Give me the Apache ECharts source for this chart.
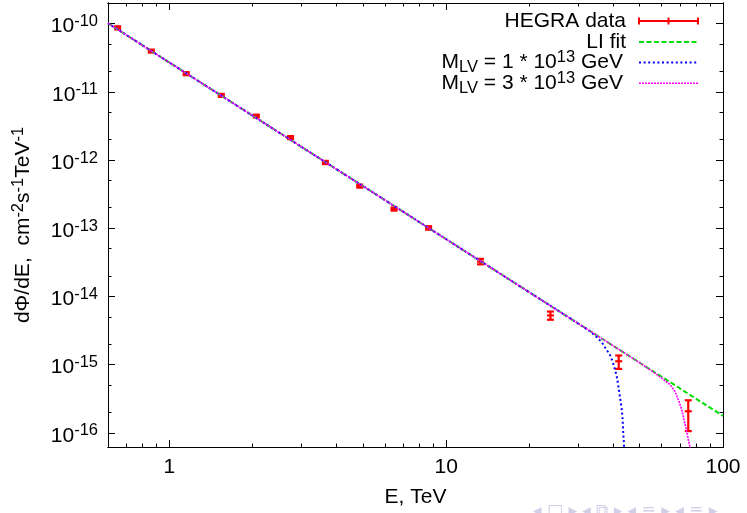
<!DOCTYPE html>
<html><head><meta charset="utf-8">
<script src="https://cdn.jsdelivr.net/npm/echarts@6/dist/echarts.min.js"></script>
<style>html,body{margin:0;padding:0;background:#fff}#c{width:747px;height:513px}</style>
</head><body><div id="c"></div>
<script>
// ---- data ----
const hegraE    = [0.65, 0.86, 1.15, 1.54, 2.06, 2.74, 3.66, 4.87, 6.48, 8.64, 13.3, 23.8, 42.0, 74.9];
const hegraF    = [8.65e-11, 3.94e-11, 1.84e-11, 8.85e-12, 4.41e-12, 2.13e-12, 9.19e-13, 4.14e-13, 1.91e-13, 1.01e-13, 3.24e-14, 5.26e-15, 1.12e-15, 2.07e-16];
const hegraLow  = [8.2e-11, 3.75e-11, 1.75e-11, 8.4e-12, 4.2e-12, 2.02e-12, 8.7e-13, 3.93e-13, 1.81e-13, 9.5e-14, 2.95e-14, 4.55e-15, 8.65e-16, 1.06e-16];
const hegraHigh = [9.1e-11, 4.15e-11, 1.94e-11, 9.3e-12, 4.62e-12, 2.24e-12, 9.7e-13, 4.35e-13, 2.01e-13, 1.07e-13, 3.55e-14, 6.0e-15, 1.36e-15, 3.0e-16];

const fitE = [0.6, 1, 2, 5, 10, 20, 50, 100];
const fitF = [1.01e-10, 2.68e-11, 4.45e-12, 4.15e-13, 6.89e-14, 1.145e-14, 1.066e-15, 1.77e-16];

const lv1E = [0.6, 1, 2, 5, 10, 20, 30, 33, 34.9, 36.4, 37.4, 39.0, 39.9, 40.7, 41.3, 41.8, 42.4, 43.0, 43.4, 43.6, 43.85, 44.0];
const lv1F = [1.01e-10, 2.68e-11, 4.45e-12, 4.15e-13, 6.89e-14, 1.145e-14, 4.0e-15, 3.1e-15, 2.55e-15, 2.15e-15, 1.81e-15, 1.40e-15, 1.12e-15, 8.45e-16, 6.75e-16, 5.10e-16, 3.44e-16, 2.33e-16, 1.57e-16, 1.00e-16, 7.16e-17, 5.0e-17];

const lv3E = [0.6, 1, 2, 5, 10, 20, 50, 56.0, 60.8, 64.3, 67.0, 68.9, 70.9, 72.3, 73.9, 74.9, 75.9, 76.5];
const lv3F = [1.01e-10, 2.68e-11, 4.45e-12, 4.15e-13, 6.89e-14, 1.145e-14, 1.066e-15, 7.8e-16, 6.1e-16, 5.1e-16, 4.07e-16, 3.08e-16, 2.20e-16, 1.57e-16, 1.06e-16, 8.0e-17, 6.27e-17, 5.0e-17];

const xMajorTicks = [1, 10, 100];
const xMinorTicks = [0.7, 0.8, 0.9, 2, 3, 4, 5, 6, 7, 8, 9, 20, 30, 40, 50, 60, 70, 80, 90];
const yMajorTicks = [1e-16, 1e-15, 1e-14, 1e-13, 1e-12, 1e-11, 1e-10];
const yMinorTicks = [2e-16, 5e-16, 2e-15, 5e-15, 2e-14, 5e-14, 2e-13, 5e-13, 2e-12, 5e-12, 2e-11, 5e-11];

const legendLabels = ['HEGRA data', 'LI fit', 'M{sub|LV} = 1 * 10{sup|13} GeV', 'M{sub|LV} = 3 * 10{sup|13} GeV'];

// ---- chart ----
const FONT = '"Liberation Sans", Arial, Helvetica, sans-serif';
const FS = 21, FS_SUP = 16.5;
const X_MIN = 0.6, X_MAX = 100, Y_MIN = 6.2e-17, Y_MAX = 2e-10;
const RED = '#ff0000', GREEN = '#00dd00', BLUE = '#0000ff', MAG = '#ff00ff';
const lg = v => Math.log10(v);

const chart = echarts.init(document.getElementById('c'), null, {renderer: 'canvas'});

// data axes (log scale)
const xData = {type: 'log', logBase: 10, min: X_MIN, max: X_MAX, position: 'bottom',
  axisLine: {show: false, onZero: false}, axisTick: {show: false}, axisLabel: {show: false}, splitLine: {show: false}};
const yData = {type: 'log', logBase: 10, min: Y_MIN, max: Y_MAX, position: 'left',
  axisLine: {show: false, onZero: false}, axisTick: {show: false}, axisLabel: {show: false}, splitLine: {show: false}};

// tick / label axes in decade units (same mapping as the log axes)
function tickAx(min, max, pos, ticks, len) {
  return {
    type: 'value', min: lg(min), max: lg(max), position: pos, scale: true,
    axisLine: {show: true, onZero: false, lineStyle: {color: '#000', width: 1}},
    axisTick: {show: true, inside: true, length: len, interval: 0, customValues: ticks.map(lg), lineStyle: {color: '#000', width: 1}},
    axisLabel: {show: false}, splitLine: {show: false}, minorTick: {show: false}
  };
}
const supRich = {
  b: {fontSize: FS, lineHeight: 27, fontFamily: FONT, color: '#000'},
  s: {fontSize: FS_SUP, lineHeight: 16, verticalAlign: 'top', fontFamily: FONT, color: '#000'}
};
const xMajBottom = tickAx(X_MIN, X_MAX, 'bottom', xMajorTicks, 7);
xMajBottom.axisLabel = {show: true, customValues: xMajorTicks.map(lg), margin: 10, color: '#000', fontSize: FS, fontFamily: FONT,
  formatter: v => String(Math.round(Math.pow(10, v)))};
xMajBottom.name = 'E, TeV';
xMajBottom.nameLocation = 'middle';
xMajBottom.nameGap = 40;
xMajBottom.nameTextStyle = {fontSize: FS, fontFamily: FONT, color: '#000'};

const yMajLeft = tickAx(Y_MIN, Y_MAX, 'left', yMajorTicks, 7);
yMajLeft.axisLabel = {show: true, customValues: yMajorTicks.map(lg), margin: 10, padding: [6, 0, 0, 0],
  formatter: v => '{b|10}{s|' + Math.round(v) + '}', rich: supRich};
yMajLeft.name = 'dΦ/dE,  cm{s|-2}s{s|-1}TeV{s|-1}';
yMajLeft.nameLocation = 'middle';
yMajLeft.nameRotate = 90;
yMajLeft.nameGap = 71;
yMajLeft.nameTextStyle = {fontSize: FS, lineHeight: 27, fontFamily: FONT, color: '#000', rich: supRich};

const errData = hegraE.map((e, i) => [e, hegraF[i], hegraLow[i], hegraHigh[i]]);

const legendRowsY = [21, 42, 62.5, 83.3];
const legendTextX = [626, 626, 623, 623];
const SX1 = 639, SX2 = 698;
const legRich = {
  sub: {fontSize: FS_SUP, lineHeight: 16, verticalAlign: 'bottom', fontFamily: FONT, fill: '#000', color: '#000'},
  sup: {fontSize: FS_SUP, lineHeight: 16, verticalAlign: 'top', fontFamily: FONT, fill: '#000', color: '#000'}
};
const graphics = [];
legendLabels.forEach((t, i) => {
  graphics.push({type: 'text', x: legendTextX[i], y: legendRowsY[i], z: 100,
    style: {text: t, align: 'right', verticalAlign: 'middle', fontSize: FS, lineHeight: 27, fontFamily: FONT, fill: '#000', rich: legRich}});
});
const y0 = legendRowsY[0];
[[SX1, y0, SX2, y0], [SX1, y0 - 3.5, SX1, y0 + 3.5], [(SX1 + SX2) / 2, y0 - 3.5, (SX1 + SX2) / 2, y0 + 3.5], [SX2, y0 - 3.5, SX2, y0 + 3.5]]
  .forEach(s => graphics.push({type: 'line', z: 100, shape: {x1: s[0], y1: s[1], x2: s[2], y2: s[3]}, style: {stroke: RED, lineWidth: 2}}));
graphics.push({type: 'line', z: 100, shape: {x1: SX1, y1: legendRowsY[1], x2: SX2, y2: legendRowsY[1]}, style: {stroke: GREEN, lineWidth: 2, lineDash: [5, 2.5]}});
graphics.push({type: 'line', z: 100, shape: {x1: SX1, y1: legendRowsY[2], x2: SX2, y2: legendRowsY[2]}, style: {stroke: BLUE, lineWidth: 2, lineDash: [2, 2.6]}});
graphics.push({type: 'line', z: 100, shape: {x1: SX1, y1: legendRowsY[3], x2: SX2, y2: legendRowsY[3]}, style: {stroke: MAG, lineWidth: 1.6, lineDash: [2, 1]}});
graphics.push({type: 'text', x: 533, y: 503, z: 100,
  style: {text: '◂ □ ▸ ◂ ⧉ ▸ ◂ ≡ ▸ ◂ ≡ ▸', fontSize: 17, fontFamily: '"DejaVu Sans", sans-serif', fill: '#cfcfe8', align: 'left', verticalAlign: 'top'}});

chart.setOption({
  animation: false,
  backgroundColor: '#fff',
  grid: {left: 108, right: 24, top: 3, bottom: 66, show: false},
  xAxis: [xData, xMajBottom, tickAx(X_MIN, X_MAX, 'bottom', xMinorTicks, 3.5), tickAx(X_MIN, X_MAX, 'top', xMajorTicks, 7), tickAx(X_MIN, X_MAX, 'top', xMinorTicks, 3.5)],
  yAxis: [yData, yMajLeft, tickAx(Y_MIN, Y_MAX, 'left', yMinorTicks, 3.5), tickAx(Y_MIN, Y_MAX, 'right', yMajorTicks, 7), tickAx(Y_MIN, Y_MAX, 'right', yMinorTicks, 3.5)],
  graphic: graphics,
  series: [
    {
      name: 'HEGRA data', type: 'custom', xAxisIndex: 0, yAxisIndex: 0,
      encode: {x: 0, y: [1, 2, 3]},
      data: errData,
      renderItem: function (params, api) {
        const c = api.coord([api.value(0), api.value(1)]);
        const lo = api.coord([api.value(0), api.value(2)]);
        const hi = api.coord([api.value(0), api.value(3)]);
        const w = 3.5;
        const st = {stroke: RED, lineWidth: 2.2, fill: null};
        return {type: 'group', children: [
          {type: 'line', shape: {x1: c[0], y1: hi[1], x2: c[0], y2: lo[1]}, style: st},
          {type: 'line', shape: {x1: c[0] - w, y1: hi[1], x2: c[0] + w, y2: hi[1]}, style: st},
          {type: 'line', shape: {x1: c[0] - w, y1: lo[1], x2: c[0] + w, y2: lo[1]}, style: st},
          {type: 'line', shape: {x1: c[0] - w, y1: c[1], x2: c[0] + w, y2: c[1]}, style: st}
        ]};
      }
    },
    {name: 'LI fit', type: 'line', xAxisIndex: 0, yAxisIndex: 0, symbol: 'none', clip: true,
      data: fitE.map((e, i) => [e, fitF[i]]), lineStyle: {color: GREEN, width: 2, type: [5, 2.5]}},
    {name: 'M_LV = 1e13 GeV', type: 'line', xAxisIndex: 0, yAxisIndex: 0, symbol: 'none', clip: true,
      data: lv1E.map((e, i) => [e, lv1F[i]]), lineStyle: {color: BLUE, width: 2, type: [2, 2.6]}},
    {name: 'M_LV = 3e13 GeV', type: 'line', xAxisIndex: 0, yAxisIndex: 0, symbol: 'none', clip: true,
      data: lv3E.map((e, i) => [e, lv3F[i]]), lineStyle: {color: MAG, width: 1.6, type: [2, 1]}}
  ]
});
</script>
</body></html>
